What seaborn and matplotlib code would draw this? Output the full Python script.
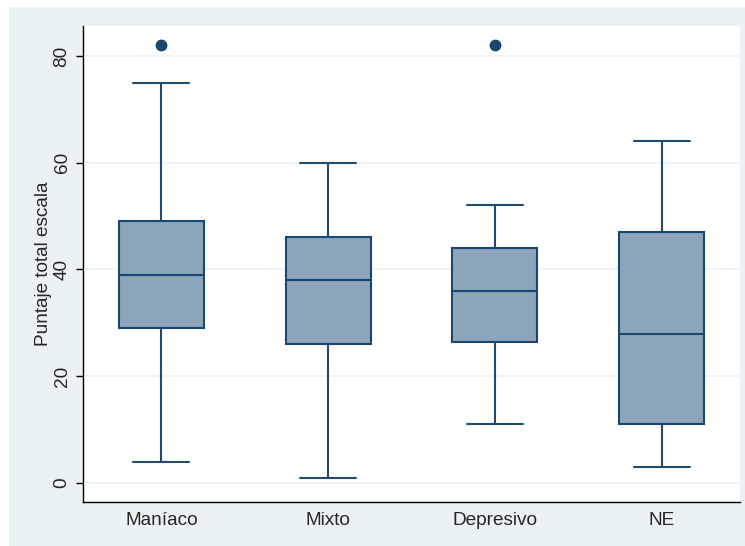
import matplotlib
matplotlib.use("Agg")
import matplotlib.pyplot as plt
import seaborn as sns
from matplotlib.patches import Rectangle

categories = ["Maníaco", "Mixto", "Depresivo", "NE"]
whis_low = [4, 1, 11, 3]
q1 = [29, 26, 26.5, 11]
median = [39, 38, 36, 28]
q3 = [49, 46, 44, 47]
whis_high = [75, 60, 52, 64]
outliers = [[82], [], [82], []]
yticks = [0, 20, 40, 60, 80]

sns.set_style("white")
plt.rcParams["font.family"] = ["Liberation Sans", "DejaVu Sans"]

W, H = 745, 546
fig = plt.figure(figsize=(W / 100, H / 100), dpi=100)
fig.patch.set_facecolor("white")
fig.patches.append(Rectangle((9 / W, 0), 1 - 9 / W, 1 - 7 / H,
                             transform=fig.transFigure, facecolor="#EAF2F3",
                             edgecolor="none", zorder=-10))

ax = fig.add_axes([83 / W, 44 / H, 657 / W, 476 / H])
ax.set_facecolor("white")

navy = "#1A476F"
stats = []
for i, c in enumerate(categories):
    stats.append(dict(label=c, whislo=whis_low[i], q1=q1[i], med=median[i],
                      q3=q3[i], whishi=whis_high[i], fliers=outliers[i]))

ax.bxp(stats, positions=range(len(categories)), widths=0.51, patch_artist=True,
       showfliers=True,
       boxprops=dict(facecolor="#8DA5BA", edgecolor=navy, linewidth=1.5),
       medianprops=dict(color=navy, linewidth=1.5),
       whiskerprops=dict(color="#1F4B72", linewidth=1.5),
       capprops=dict(color="#1F4B72", linewidth=1.5),
       capwidths=0.335,
       flierprops=dict(marker="o", markerfacecolor=navy, markeredgecolor=navy,
                       markersize=7.5))

fs = 13.7
ax.set_xlim(-0.47, 3.47)
ax.set_ylim(-3.56, 85.6)
ax.set_yticks(yticks)
ax.set_yticklabels([str(t) for t in yticks], rotation=90, va="center", fontsize=fs)
ax.set_xticks(range(len(categories)))
ax.set_xticklabels(categories, fontsize=fs)
ax.tick_params(axis="y", length=5, width=1, color="black", pad=4, left=True)
ax.tick_params(axis="x", length=0, pad=7)
ax.yaxis.grid(True, color="#EAF2F3", linewidth=1.2)
ax.set_axisbelow(True)
ax.set_ylabel("Puntaje total escala", fontsize=fs, labelpad=1)
for s in ["top", "right"]:
    ax.spines[s].set_visible(False)
for s in ["left", "bottom"]:
    ax.spines[s].set_color("black")
    ax.spines[s].set_linewidth(1)

fig.savefig("out.png", dpi=100)
